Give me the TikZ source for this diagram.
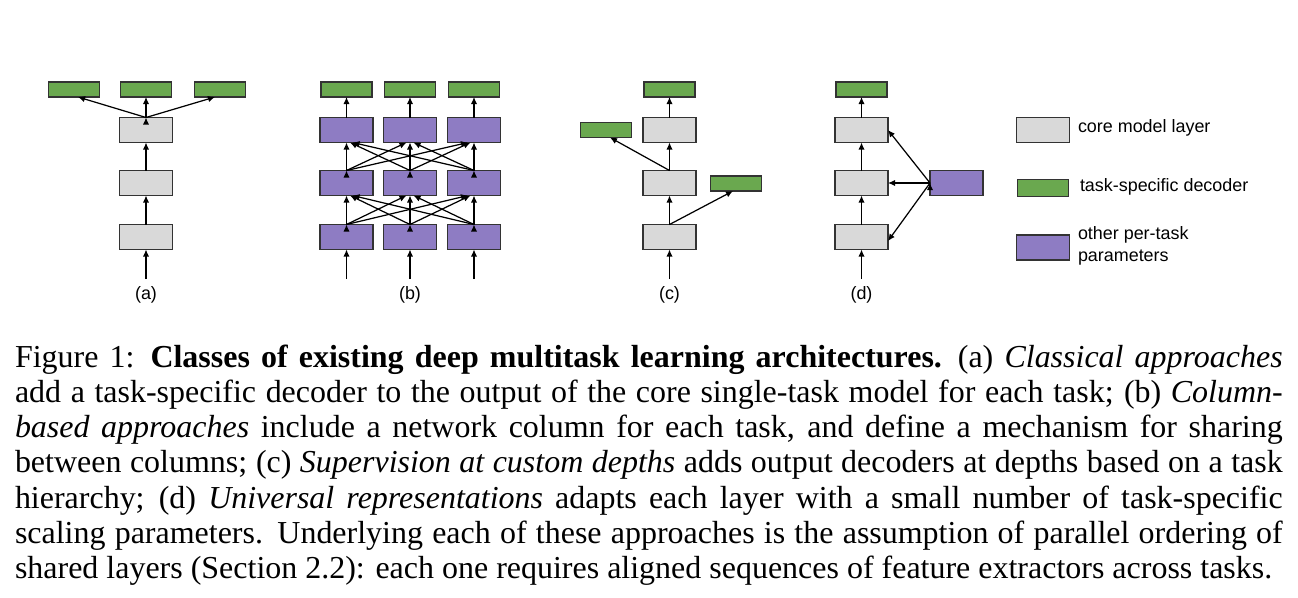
\documentclass[tikz,border=0pt]{standalone}
\usepackage{fontspec}
\setmainfont{Liberation Serif}
\setsansfont{Liberation Sans}
\usetikzlibrary{arrows.meta}
\definecolor{coregray}{HTML}{D9D9D9}
\definecolor{decgreen}{HTML}{6AA84F}
\definecolor{parpurple}{HTML}{8E7CC3}
\definecolor{edgegray}{HTML}{333333}

\begin{document}
\begin{tikzpicture}[x=0.02cm, y=-0.02cm,
    every node/.style={inner sep=0pt, outer sep=0pt},
    box/.style={draw=edgegray, line width=0.75pt, minimum width=1.06cm},
    core/.style={box, fill=coregray, minimum height=0.5cm},
    dec/.style={box, fill=decgreen, minimum width=1.02cm, minimum height=0.3cm},
    par/.style={box, fill=parpurple, minimum height=0.5cm},
    arr/.style={-{Latex[length=4pt,width=3.6pt]}, line width=0.7pt},
    lab/.style={font=\sffamily\fontsize{10.2}{12.5}\selectfont}]
\useasboundingbox (0,0) rectangle (1298,598);

      \begin{scope}
      \node[core] (a1) at (146,237) {};
      \node[core] (a2) at (146,183) {};
      \node[core] (a3) at (146,130) {};
      \node[dec] (ad1) at (74,89.5) {};
      \node[dec] (ad2) at (146,89.5) {};
      \node[dec] (ad3) at (220,89.5) {};
      \coordinate (ain) at (146,279);
      \draw[arr] (ain) -- (a1);
      \draw[arr] (a1) -- (a2);
      \draw[arr] (a2) -- (a3);
      \draw[arr] (a3.north) edge ([xshift=0.08cm]ad1.south) edge (ad2) edge ([xshift=-0.1cm]ad3.south);
      \node[lab] (alab) at (146,295) {(a)};
      \end{scope}

      \begin{scope}
      \node[par] (b11) at (346.5,237) {};
      \node[par] (b12) at (410,237) {};
      \node[par] (b13) at (474,237) {};
      \node[par] (b21) at (346.5,183) {};
      \node[par] (b22) at (410,183) {};
      \node[par] (b23) at (474,183) {};
      \node[par] (b31) at (346.5,130) {};
      \node[par] (b32) at (410,130) {};
      \node[par] (b33) at (474,130) {};
      \node[dec] (bd1) at (346.5,89.5) {};
      \node[dec] (bd2) at (410,89.5) {};
      \node[dec] (bd3) at (474,89.5) {};
      \coordinate (bin1) at (346.5,279);
      \coordinate (bin2) at (410,279);
      \coordinate (bin3) at (474,279);
      \draw[arr] (bin1) -- (b11);
      \draw[arr] (bin2) -- (b12);
      \draw[arr] (bin3) -- (b13);
      \draw[arr] (b11.north) edge (b21.south) edge ([xshift=-0.07cm]b22.south) edge ([xshift=-0.12cm]b23.south);
      \draw[arr] (b12.north) edge ([xshift=0.07cm]b21.south) edge (b22.south) edge ([xshift=-0.07cm]b23.south);
      \draw[arr] (b13.north) edge ([xshift=0.12cm]b21.south) edge ([xshift=0.07cm]b22.south) edge (b23.south);
      \draw[arr] (b21.north) edge (b31.south) edge ([xshift=-0.07cm]b32.south) edge ([xshift=-0.12cm]b33.south);
      \draw[arr] (b22.north) edge ([xshift=0.07cm]b31.south) edge (b32.south) edge ([xshift=-0.07cm]b33.south);
      \draw[arr] (b23.north) edge ([xshift=0.12cm]b31.south) edge ([xshift=0.07cm]b32.south) edge (b33.south);
      \draw[arr] (b31) -- (bd1);
      \draw[arr] (b32) -- (bd2);
      \draw[arr] (b33) -- (bd3);
      \node[lab] (blab) at (410,295) {(b)};
      \end{scope}

      \begin{scope}
      \node[core] (c1) at (669.5,237) {};
      \node[core] (c2) at (669.5,183) {};
      \node[core] (c3) at (669.5,130) {};
      \node[dec] (cd3) at (669.5,89.5) {};
      \node[dec] (cd2) at (606,130) {};
      \node[dec] (cd1) at (736,183.5) {};
      \coordinate (cin) at (669.5,279);
      \draw[arr] (cin) -- (c1);
      \draw[arr] (c1) -- (c2);
      \draw[arr] (c2) -- (c3);
      \draw[arr] (c3) -- (cd3);
      \draw[arr] (c2.north) -- ([xshift=0.08cm]cd2.south);
      \draw[arr] (c1.north) -- ([xshift=-0.06cm]cd1.south);
      \node[lab] (clab) at (669.5,295) {(c)};
      \end{scope}

      \begin{scope}
      \node[core] (d1) at (861.5,237) {};
      \node[core] (d2) at (861.5,183) {};
      \node[core] (d3) at (861.5,130) {};
      \node[dec] (dd) at (861.5,89.5) {};
      \node[par] (dp) at (956.5,183) {};
      \coordinate (din) at (861.5,279);
      \draw[arr] (din) -- (d1);
      \draw[arr] (d1) -- (d2);
      \draw[arr] (d2) -- (d3);
      \draw[arr] (d3) -- (dd);
      \draw[arr] (dp.west) edge (d3.east) edge (d2.east) edge ([yshift=-0.08cm]d1.east);
      \node[lab] (dlab) at (861.5,295) {(d)};
      \end{scope}

      \node[core] (k1) at (1043,130) {};
      \node[dec, minimum height=0.34cm] (k2) at (1043,188) {};
      \node[par] (k3) at (1043,247.5) {};
      \node[lab, anchor=west] (t1) at (1078,128) {core model layer};
      \node[lab, anchor=west] (t2) at (1080,187) {task-specific decoder};
      \node[lab, anchor=west, align=left] (t3) at (1078,246) {other per-task\\parameters};

      \node[anchor=base west, text width=25.36cm, align=justify,
        font=\fontsize{18.2}{20.1}\selectfont] (cap) at (15,367)
        {Figure 1:\enskip\textbf{Classes of existing deep multitask learning architectures.}\enskip (a) \textit{Classical approaches}\linebreak
        add a task-specific decoder to the output of the core single-task model for each task; (b) \textit{Column-}\linebreak
        \textit{based approaches} include a network column for each task, and define a mechanism for sharing\linebreak
        between columns; (c) \textit{Supervision at custom depths} adds output decoders at depths based on a task\linebreak
        hierarchy; (d) \textit{Universal representations} adapts each layer with a small number of task-specific\linebreak
        scaling parameters.  Underlying each of these approaches is the assumption of parallel ordering of\linebreak
        shared layers (Section 2.2): each one requires aligned sequences of feature extractors across tasks.};
\end{tikzpicture}
\end{document}
